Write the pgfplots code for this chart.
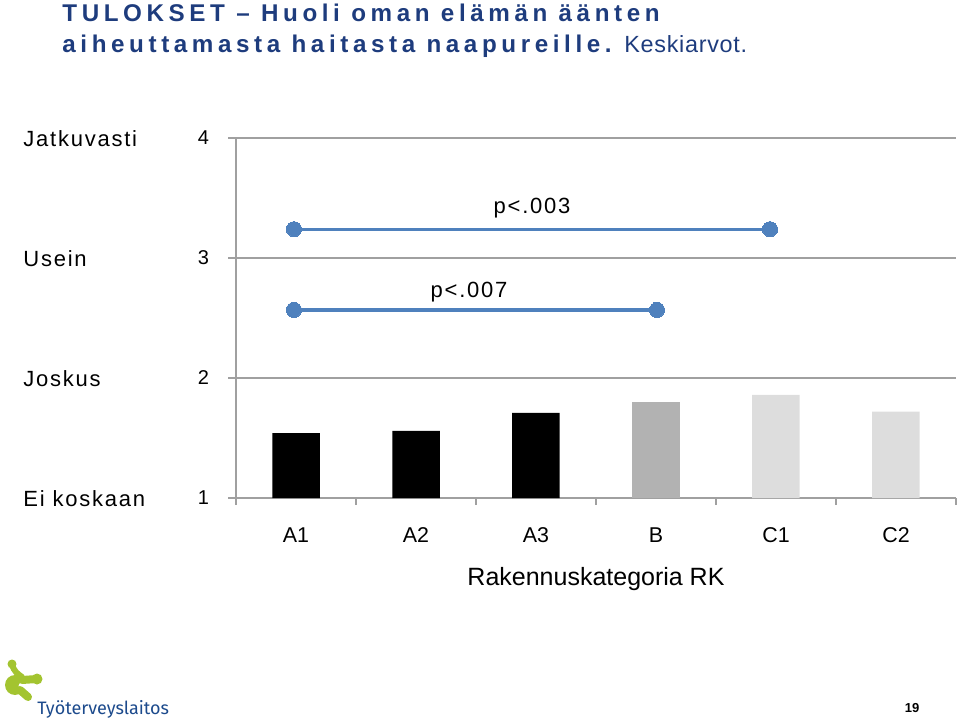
\documentclass[border=0pt]{standalone}
\usepackage{pgfplots}
\pgfplotsset{compat=1.18}
\usepackage{fontspec}
\setmainfont{Liberation Sans}
\newfontfamily\titlefont[LetterSpace=19]{Liberation Sans}
\newfontfamily\keskifont[LetterSpace=3]{Liberation Sans}
\newfontfamily\spfont[LetterSpace=8]{Liberation Sans}
\newfontfamily\logofont{Fira Sans}
\definecolor{titleblue}{RGB}{30,60,125}
\definecolor{lineblue}{RGB}{79,129,189}
\definecolor{gridgray}{RGB}{160,160,160}
\definecolor{barB}{RGB}{178,178,178}
\definecolor{barC}{RGB}{221,221,221}
\definecolor{logogreen}{RGB}{163,196,48}
\definecolor{logoblue}{RGB}{28,74,140}
\begin{document}
\begin{tikzpicture}
\begin{scope}[x=0.5pt,y=-0.5pt]
\path[use as bounding box] (0,0) rectangle (960,722);
% title
\node[anchor=base west, inner sep=0] at (62,22) {\titlefont\fontsize{12.1}{14}\selectfont\bfseries\color{titleblue}TULOKSET – Huoli oman elämän äänten};
\node[anchor=base west, inner sep=0] at (62,53) {\titlefont\fontsize{12.1}{14}\selectfont\bfseries\color{titleblue}aiheuttamasta haitasta naapureille.};
\node[anchor=base west, inner sep=0] at (624,53) {\keskifont\fontsize{11.7}{13}\selectfont\color{titleblue}Keskiarvot.};
% y category labels
\node[anchor=base west, inner sep=0] at (23,146.7) {\spfont\fontsize{11}{12}\selectfont Jatkuvasti};
\node[anchor=base west, inner sep=0] at (23,266.5) {\spfont\fontsize{11}{12}\selectfont Usein};
\node[anchor=base west, inner sep=0] at (23,386.5) {\spfont\fontsize{11}{12}\selectfont Joskus};
\node[anchor=base west, inner sep=0] at (23,506) {\spfont\fontsize{11}{12}\selectfont Ei koskaan};
% logo
\fill[logogreen] (12,664) circle (4.5);
\draw[logogreen, line width=3pt, line cap=round] (12,664) .. controls (14,672) and (18,674) .. (22,677);
\fill[logogreen] (15,685) circle (10);
\fill[white] (22,686) circle (3.5);
\fill[logogreen] (37,679) circle (5.5);
\draw[logogreen, line width=4pt, line cap=round] (22,680) -- (37,679);
\draw[logogreen, line width=4pt, line cap=round] (20,690) -- (28,697);
\node[anchor=base west, inner sep=0] at (37,714) {\logofont\fontsize{9}{10}\selectfont\color{logoblue}Työterveyslaitos};
% page number
\node[anchor=base, inner sep=0] at (912,712) {\bfseries\fontsize{6.5}{8}\selectfont 19};
\end{scope}
\begin{axis}[
  at={(118pt,-249pt)}, anchor=south west,
  scale only axis, width=360pt, height=180pt,
  xmin=0.5, xmax=6.5, ymin=1, ymax=4,
  axis x line*=bottom, axis y line*=left,
  axis line style={gridgray, line width=0.75pt},
  ymajorgrids, grid style={gridgray, line width=0.75pt},
  ytick={1,2,3,4},
  tick align=outside, major tick length=4pt, minor tick length=3.5pt,
  y tick style={gridgray, line width=0.75pt},
  xtick={1,...,6}, xticklabels={A1,A2,A3,B,C1,C2},
  major x tick style={draw=none},
  minor xtick={0.5,1.5,2.5,3.5,4.5,5.5,6.5},
  minor x tick style={gridgray, line width=0.75pt},
  /pgf/number format/assume math mode=true,
  yticklabel style={font=\fontsize{10}{12}\selectfont, xshift=-6pt},
  xticklabel style={font=\fontsize{10.7}{12}\selectfont, anchor=base, yshift=-18pt},
  xlabel={Rakennuskategoria RK},
  xlabel style={font=\fontsize{12.5}{14}\selectfont, at={(axis description cs:0.5,0)}, anchor=base, yshift=-43.5pt},
]
\addplot[ybar, bar width=23.75pt, bar shift=0pt, fill=black, draw=none] coordinates {(1,1.54) (2,1.56) (3,1.71)};
\addplot[ybar, bar width=23.75pt, bar shift=0pt, fill=barB, draw=none] coordinates {(4,1.80)};
\addplot[ybar, bar width=23.75pt, bar shift=0pt, fill=barC, draw=none] coordinates {(5,1.86) (6,1.72)};
\addplot[lineblue, line width=1.7pt, mark=*, mark size=3.8pt, mark options={fill=lineblue, draw=lineblue, line width=0pt}] coordinates {(0.983,3.24) (4.95,3.24)};
\addplot[lineblue, line width=1.7pt, mark=*, mark size=3.8pt, mark options={fill=lineblue, draw=lineblue, line width=0pt}] coordinates {(0.983,2.567) (4.008,2.567)};
\node[anchor=base, inner sep=0, font=\spfont\fontsize{11}{12}\selectfont] at (axis cs:2.967,3.375) {p<.003};
\node[anchor=base, inner sep=0, font=\spfont\fontsize{11}{12}\selectfont] at (axis cs:2.442,2.667) {p<.007};
\end{axis}
\end{tikzpicture}
\end{document}
